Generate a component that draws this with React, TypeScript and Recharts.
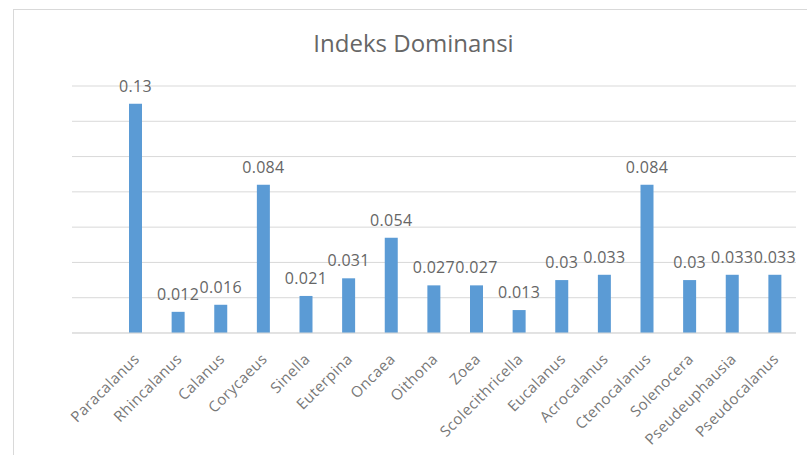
import React from 'react';
import { BarChart, Bar, XAxis, YAxis, CartesianGrid, LabelList } from 'recharts';

const taxa = [
  'Paracalanus', 'Rhincalanus', 'Calanus', 'Corycaeus', 'Sinella', 'Euterpina',
  'Oncaea', 'Oithona', 'Zoea', 'Scolecithricella', 'Eucalanus', 'Acrocalanus',
  'Ctenocalanus', 'Solenocera', 'Pseudeuphausia', 'Pseudocalanus',
];
const dominance = [
  0.13, 0.012, 0.016, 0.084, 0.021, 0.031, 0.054, 0.027,
  0.027, 0.013, 0.03, 0.033, 0.084, 0.03, 0.033, 0.033,
];
const yTicks = [0, 0.02, 0.04, 0.06, 0.08, 0.1, 0.12, 0.14];

const data = taxa.map((name, i) => ({ name, value: dominance[i] }));

const FONT = '"Open Sans", Lato, sans-serif';
const GRAY = '#666';

const RotatedTick = (props: any) => {
  const { x, y, payload } = props;
  return (
    <g transform={`translate(${x + 5},${y + 19})`}>
      <text transform="rotate(-45)" textAnchor="end" fill="#777" fontSize={15} letterSpacing={0.4} fontFamily={FONT}>
        {payload.value}
      </text>
    </g>
  );
};

const App: React.FC = () => {
  return (
    <div style={{ position: 'fixed', left: 0, top: 0, width: 807, height: 455, background: '#fff', overflow: 'hidden' }}>
      <div style={{ position: 'absolute', left: 13, top: 9, width: 820, height: 470, border: '1px solid #d9d9d9' }} />
      <div style={{ position: 'absolute', left: 0, top: 26, width: 827, textAlign: 'center', fontFamily: FONT, fontSize: 24, color: GRAY }}>
        Indeks Dominansi
      </div>
      <div style={{ position: 'absolute', left: 0, top: 0 }}>
        <BarChart width={807} height={455} data={data} margin={{ top: 86, right: 11, bottom: 0, left: 72 }}>
          <CartesianGrid vertical={false} stroke="#d9d9d9" />
          <XAxis dataKey="name" interval={0} height={122} padding={{ left: 42, right: 0 }} tickLine={false}
            axisLine={{ stroke: '#d9d9d9' }} tick={<RotatedTick />} />
          <YAxis hide domain={[0, 0.14]} ticks={yTicks} width={0} />
          <Bar dataKey="value" fill="#5B9BD5" barSize={13} isAnimationActive={false}>
            <LabelList dataKey="value" position="top" offset={12} fill={GRAY} fontSize={16} letterSpacing={0.3} fontFamily={FONT} />
          </Bar>
        </BarChart>
      </div>
    </div>
  );
};

export default App;
